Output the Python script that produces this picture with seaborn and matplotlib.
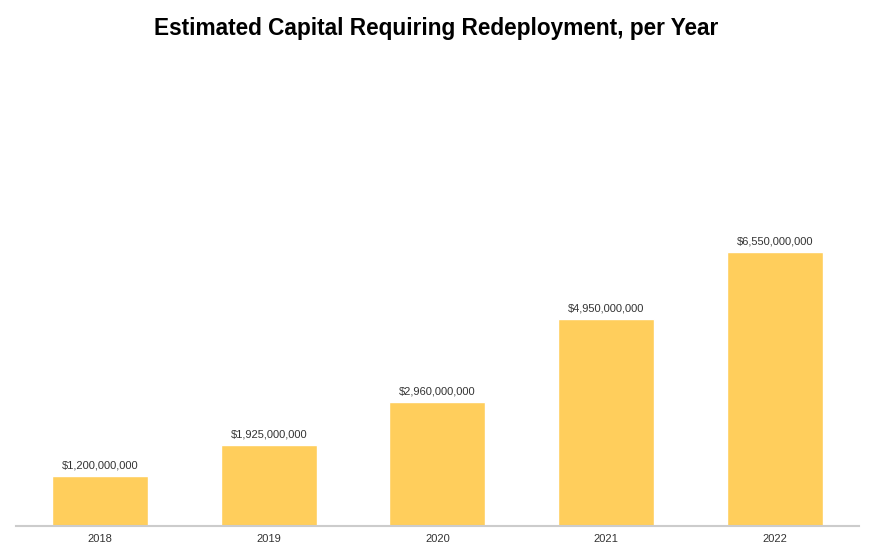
import pandas as pd
import seaborn as sns
import matplotlib.pyplot as plt

years = ["2018", "2019", "2020", "2021", "2022"]
capital = [1200000000, 1925000000, 2960000000, 4950000000, 6550000000]

df = pd.DataFrame({"Year": years, "Capital": capital})

sns.set_theme(style="white")
plt.rcParams['font.family'] = ['Liberation Sans', 'DejaVu Sans']

fig = plt.figure(figsize=(8.73, 5.6), dpi=100)
ax = fig.add_axes([0.018, 0.0607, 0.966, 0.80])

sns.barplot(data=df, x="Year", y="Capital", color="#FFCE5C", saturation=1,
            width=0.57, ax=ax)

# value labels above bars
for i, v in enumerate(capital):
    ax.annotate(f"${v:,.0f}", (i, v), xytext=(0, 4), textcoords="offset points",
                ha="center", va="bottom", fontsize=8, color="#333333")

ax.set_xlim(-0.5, 4.5)
ax.set_ylim(0, 10.7e9)
ax.set_xlabel("")
ax.set_ylabel("")
ax.set_yticks([])
ax.tick_params(axis="x", labelsize=8, labelcolor="#333333", length=0, pad=6)
for s in ["top", "left", "right"]:
    ax.spines[s].set_visible(False)
ax.spines["bottom"].set_color("#cccccc")
ax.spines["bottom"].set_linewidth(1.5)

fig.suptitle("Estimated Capital Requiring Redeployment, per Year",
             fontsize=16.3, fontweight="bold", y=0.97, color="black")

fig.savefig("out.png", dpi=100, facecolor="white")
